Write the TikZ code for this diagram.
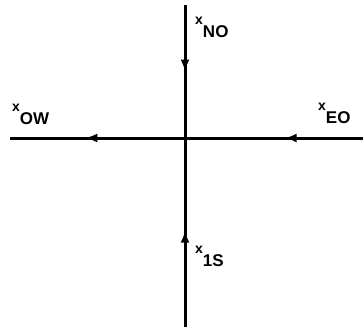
\documentclass[tikz,border=0pt]{standalone}
\usepackage{fontspec}
\setmainfont{Liberation Sans}
\usetikzlibrary{decorations.markings,arrows.meta}
\tikzset{
  axis/.style={line width=3pt},
  midarrow/.style={postaction={decorate},decoration={markings,
    mark=at position #1 with {\arrow{Latex[length=12pt,width=9pt]}}}},
  lbl/.style={inner sep=0pt,anchor=north west,font=\bfseries},
}
\newcommand{\xlab}[1]{{\fontsize{14}{14}\selectfont x}\raisebox{-13pt}{\fontsize{17}{17}\selectfont #1}}
\begin{document}
\begin{tikzpicture}[x=1pt,y=-1pt]
\useasboundingbox (0,0) rectangle (363,327);
\coordinate (N) at (185,5);
\coordinate (S) at (185,327);
\coordinate (W) at (10,138);
\coordinate (E) at (363,138);
\coordinate (C) at (185,138);
\draw[axis,midarrow=0.5] (N) -- (C);
\draw[axis,midarrow=0.51] (S) -- (C);
\draw[axis,midarrow=0.44] (E) -- (C);
\draw[axis,midarrow=0.57] (C) -- (W);
\node[lbl] (lNO) at (195,17) {\xlab{NO}};
\node[lbl] (lOW) at (12,104) {\xlab{OW}};
\node[lbl] (lEO) at (318,103) {\xlab{EO}};
\node[lbl] (lS) at (195,246) {\xlab{1S}};
\end{tikzpicture}
\end{document}
